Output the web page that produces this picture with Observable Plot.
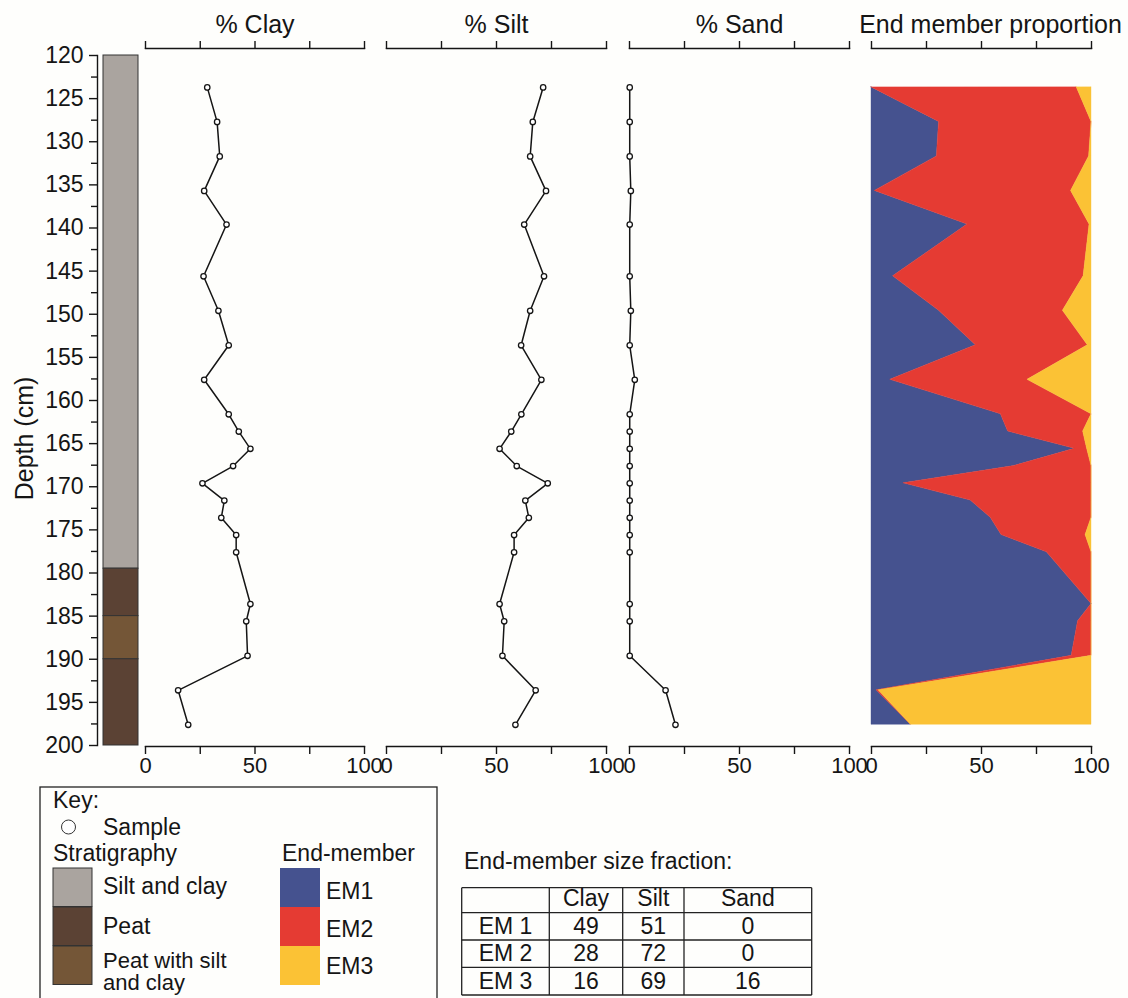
<!DOCTYPE html>
<html>
<head>
<meta charset="utf-8">
<script src="https://cdn.jsdelivr.net/npm/d3@7"></script>
<script src="https://cdn.jsdelivr.net/npm/@observablehq/plot@0.6"></script>
<style>
  html, body { margin: 0; padding: 0; background: #fefefc; }
  body { width: 1128px; height: 998px; overflow: hidden; position: relative;
         font-family: "Liberation Sans", Arial, sans-serif; color: #111; }
  .layer { position: absolute; left: 0; top: 0; }
  .layer svg { background: transparent !important; }
</style>
</head>
<body>
<div id="chart"></div>
<script>
// ---- Core samples: depth (cm) and grain-size fractions (%) ----
const depth = [123.7, 127.7, 131.7, 135.7, 139.6, 145.6, 149.6, 153.6, 157.6, 161.6, 163.6, 165.6,
               167.6, 169.6, 171.6, 173.6, 175.6, 177.6, 183.6, 185.6, 189.6, 193.6, 197.6];
const clay  = [28.2, 32.7, 33.9, 26.8, 37.0, 26.5, 33.3, 38.0, 26.8, 38.0, 42.6, 47.9,
               40.0, 26.0, 36.0, 34.6, 41.4, 41.4, 47.9, 46.0, 46.6, 14.9, 19.5];
const silt  = [71.2, 66.5, 65.3, 72.5, 62.6, 71.6, 65.3, 61.2, 70.4, 61.3, 56.7, 51.4,
               59.2, 73.3, 63.1, 64.7, 58.0, 58.0, 51.4, 53.5, 52.7, 67.8, 58.6];
const sand  = [0.1, 0.1, 0.1, 0.6, 0.1, 0.1, 0.6, 0.1, 2.4, 0.1, 0.1, 0.1,
               0.1, 0.1, 0.1, 0.1, 0.1, 0.1, 0.1, 0.1, 0.1, 16.4, 20.9];

// ---- End-member proportions (%) at each sample ----
const members = ["EM1", "EM2", "EM3"];
const memberColors = ["#45528f", "#e53b33", "#fbc235"];
const em1 = [0, 30.7, 29.7, 1.5, 43.6, 9.8, 30.7, 47.4, 8.5, 58.8, 62.1, 92.4,
             64.8, 14.5, 45.1, 54.2, 59.1, 79.7, 100, 93.9, 91.0, 2.3, 17.9];
const em2 = [93.3, 69.3, 69.2, 89.2, 55.5, 86.6, 56.3, 50.9, 62.4, 41.2, 34.1, 5.6,
             35.2, 85.5, 54.9, 45.8, 38.2, 20.3, 0, 6.1, 9.0, 0.9, 0];
const em3 = [6.7, 0, 1.1, 9.3, 0.9, 3.6, 13.0, 1.7, 29.1, 0, 3.8, 2.0,
             0, 0, 0, 0, 2.7, 0, 0, 0, 0, 96.8, 82.1];

// ---- Stratigraphy units ----
const stratTop    = [120, 179.5, 185, 190];
const stratBottom = [179.5, 185, 190, 200];
const stratUnit   = ["Silt and clay", "Peat", "Peat with silt and clay", "Peat"];
const stratNames  = ["Silt and clay", "Peat", "Peat with silt and clay"];
const stratColors = ["#aaa49f", "#5b4234", "#745637"];

// ---- Axis ticks ----
const depthTicks = d3.range(120, 201, 5);
const depthMinorTicks = d3.range(122.5, 200, 5);
const pctTicks = [0, 25, 50, 75, 100];
const pctLabels = [0, 50, 100];

// ---- End-member size fraction table ----
const fractionCols = ["Clay", "Silt", "Sand"];
const fractionRowNames = ["EM 1", "EM 2", "EM 3"];
const fractionClay = [49, 28, 16];
const fractionSilt = [51, 72, 69];
const fractionSand = [0, 0, 16];

const samples = depth.map((d, i) => ({depth: d, clay: clay[i], silt: silt[i], sand: sand[i]}));
const emRows = depth.flatMap((d, i) => [
  {depth: d, member: "EM1", value: em1[i]},
  {depth: d, member: "EM2", value: em2[i]},
  {depth: d, member: "EM3", value: em3[i]}
]);
const strat = stratTop.map((t, i) => ({top: t, bottom: stratBottom[i], unit: stratUnit[i]}));

const W = 1128, H = 800;
const FONT = "'Liberation Sans', Arial, sans-serif";
const ink = "#151515";
const root = document.getElementById("chart");

function addLayer(svg) {
  const div = document.createElement("div");
  div.className = "layer";
  div.appendChild(svg);
  root.appendChild(div);
}

// Shared depth scale: 120 cm at the top, 200 cm at the bottom
const yDepth = {domain: [120, 200], range: [55, 745], axis: null, label: null};

// Percentage panel (line + samples, or stacked area)
function panel(left, right, title, marks, titleDx = 0) {
  return Plot.plot({
    width: W, height: H,
    marginLeft: left, marginRight: W - right, marginTop: 48, marginBottom: H - 746,
    style: {fontFamily: FONT, fontSize: "22px", color: ink, background: "transparent", overflow: "visible"},
    x: {domain: [0, 100], axis: null, label: null},
    y: yDepth,
    color: {domain: members, range: memberColors},
    marks: [
      ...marks,
      Plot.frame({anchor: "top", stroke: ink, strokeWidth: 1.4}),
      Plot.frame({anchor: "bottom", stroke: ink, strokeWidth: 1.4}),
      Plot.axisX({anchor: "top", ticks: pctTicks, tickSize: 8, strokeWidth: 1.4, tickFormat: () => "", label: null}),
      Plot.axisX({anchor: "bottom", ticks: pctTicks, tickSize: 8, tickPadding: 3, strokeWidth: 1.4,
                  tickFormat: d => pctLabels.includes(d) ? String(d) : "", label: null}),
      Plot.text([title], {text: d => d, frameAnchor: "top", lineAnchor: "bottom", dy: -16, dx: titleDx,
                          fontSize: 25, fill: ink})
    ]
  });
}

function profile(key) {
  return [
    Plot.line(samples, {x: key, y: "depth", stroke: ink, strokeWidth: 1.5}),
    Plot.dot(samples, {x: key, y: "depth", r: 2.7, fill: "white", stroke: ink, strokeWidth: 1.3})
  ];
}

// Depth axis and stratigraphic column
addLayer(Plot.plot({
  width: W, height: H,
  marginLeft: 97, marginRight: W - 140, marginTop: 55, marginBottom: 55,
  style: {fontFamily: FONT, fontSize: "23px", color: ink, background: "transparent", overflow: "visible"},
  x: {domain: [0, 1], range: [103, 138], axis: null, label: null},
  y: yDepth,
  color: {domain: stratNames, range: stratColors},
  marks: [
    Plot.rect(strat, {x1: 0, x2: 1, y1: "top", y2: "bottom", fill: "unit", stroke: "#333", strokeWidth: 1}),
    Plot.frame({anchor: "left", stroke: ink, strokeWidth: 1.4}),
    Plot.axisY({anchor: "left", ticks: depthTicks, tickSize: 8, tickPadding: 6, strokeWidth: 1.4, label: null}),
    Plot.axisY({anchor: "left", ticks: depthMinorTicks, tickSize: 6, strokeWidth: 1.4, tickFormat: () => "", label: null}),
    Plot.text(["Depth (cm)"], {text: d => d, frameAnchor: "left", rotate: -90, lineAnchor: "bottom",
                               textAnchor: "middle", dx: -65, dy: 38, fontSize: 25, fill: ink})
  ]
}));

addLayer(panel(145, 364, "% Clay", profile("clay")));
addLayer(panel(386, 606, "% Silt", profile("silt")));
addLayer(panel(629, 849, "% Sand", profile("sand")));
addLayer(panel(871, 1091, "End member proportion", [
  Plot.areaX(emRows, {y: "depth", x: "value", fill: "member", order: members,
                      stroke: "member", strokeWidth: 0.4})
], 9));

// ---- Key and size-fraction table ----
const NS = "http://www.w3.org/2000/svg";
const key = document.createElementNS(NS, "svg");
key.setAttribute("width", W);
key.setAttribute("height", 998);
key.style.fontFamily = FONT;
key.style.overflow = "visible";
function el(tag, attrs, text) {
  const e = document.createElementNS(NS, tag);
  for (const k in attrs) e.setAttribute(k, attrs[k]);
  if (text != null) e.textContent = text;
  key.appendChild(e);
  return e;
}
el("rect", {x: 40, y: 787, width: 397, height: 260, fill: "none", stroke: "#222", "stroke-width": 1.3});
el("text", {x: 53, y: 808, "font-size": 23, fill: ink}, "Key:");
el("circle", {cx: 68.5, cy: 827, r: 7, fill: "white", stroke: "#333", "stroke-width": 1});
el("text", {x: 103, y: 835, "font-size": 23, fill: ink}, "Sample");
el("text", {x: 53, y: 861, "font-size": 23, fill: ink}, "Stratigraphy");
const swY = [868, 907, 946];
stratNames.forEach((name, i) => {
  el("rect", {x: 53, y: swY[i], width: 39, height: 38.5, fill: stratColors[i], stroke: "#333", "stroke-width": 1});
});
el("text", {x: 103, y: 894, "font-size": 23, fill: ink}, "Silt and clay");
el("text", {x: 103, y: 934, "font-size": 23, fill: ink}, "Peat");
el("text", {x: 103, y: 968, "font-size": 22, fill: ink}, "Peat with silt");
el("text", {x: 103, y: 990, "font-size": 22, fill: ink}, "and clay");
el("text", {x: 282, y: 861, "font-size": 23, fill: ink}, "End-member");
members.forEach((m, i) => {
  el("rect", {x: 280, y: swY[i], width: 40, height: 39, fill: memberColors[i]});
  el("text", {x: 326, y: [899, 937, 974][i], "font-size": 23, fill: ink}, m);
});

el("text", {x: 464, y: 869, "font-size": 23, fill: ink}, "End-member size fraction:");
const colX = [461.7, 549.3, 622.7, 684, 811.7];
const rowY = [887.7, 912.7, 940, 967.3, 995];
colX.forEach(x => el("line", {x1: x, x2: x, y1: rowY[0], y2: rowY[4], stroke: "#222", "stroke-width": 1.3}));
rowY.forEach(y => el("line", {x1: colX[0], x2: colX[4], y1: y, y2: y, stroke: "#222", "stroke-width": 1.3}));
const cx = i => (colX[i] + colX[i + 1]) / 2;
fractionCols.forEach((c, j) => el("text", {x: cx(j + 1), y: 906, "font-size": 23, fill: ink, "text-anchor": "middle"}, c));
const fracValues = [fractionClay, fractionSilt, fractionSand];
fractionRowNames.forEach((r, i) => {
  const by = [934, 961, 988.5][i];
  el("text", {x: cx(0), y: by, "font-size": 23, fill: ink, "text-anchor": "middle"}, r);
  fracValues.forEach((vals, j) => el("text", {x: cx(j + 1), y: by, "font-size": 23, fill: ink, "text-anchor": "middle"}, String(vals[i])));
});
const keyDiv = document.createElement("div");
keyDiv.className = "layer";
keyDiv.appendChild(key);
root.appendChild(keyDiv);
</script>
</body>
</html>
